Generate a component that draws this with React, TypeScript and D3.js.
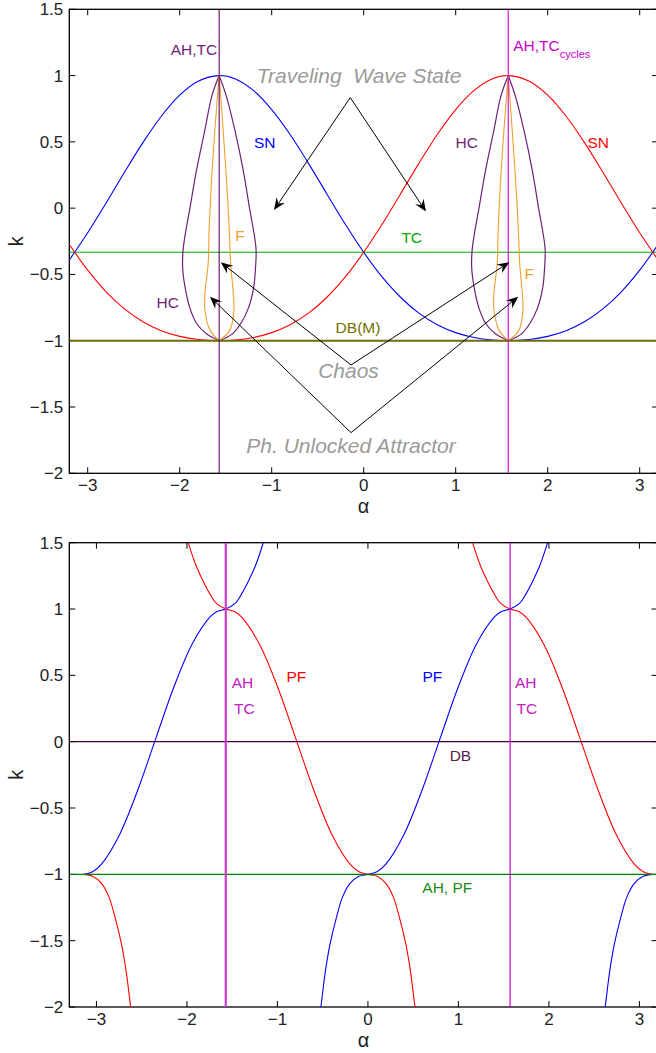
import React from "react";
import * as d3 from "d3";

// ---------- top panel data ----------
// saddle-node curves, sampled on a common alpha grid
const snAlpha = [-3.2, -3.0, -2.8, -2.6, -2.4, -2.2, -2.0, -1.8, -1.571, -1.4, -1.2, -1.0, -0.8, -0.6, -0.4, -0.2, 0,
  0.2, 0.4, 0.6, 0.8, 1.0, 1.2, 1.4, 1.571, 1.8, 2.0, 2.2, 2.4, 2.6, 2.8, 3.0, 3.2];
const snBlue = [-0.391, -0.186, 0.039, 0.271, 0.494, 0.693, 0.852, 0.957, 1.0, 0.976, 0.888, 0.744, 0.556, 0.338, 0.107, -0.122, -0.333,
  -0.519, -0.672, -0.792, -0.879, -0.939, -0.976, -0.995, -1.0, -0.991, -0.967, -0.924, -0.857, -0.76, -0.631, -0.468, -0.274];
const snRed = [-0.274, -0.468, -0.631, -0.76, -0.857, -0.924, -0.967, -0.991, -1.0, -0.995, -0.976, -0.939, -0.879, -0.792, -0.672, -0.519, -0.333,
  -0.122, 0.107, 0.338, 0.556, 0.744, 0.888, 0.976, 1.0, 0.957, 0.852, 0.693, 0.494, 0.271, 0.039, -0.186, -0.391];

// homoclinic loops (HC) and fold of cycles (F): k levels and alpha offsets from the loop centre
const loopCenters = [-1.571, 1.571];
const hcK = [1, 0.84, 0.59, 0.29, 0, -0.3, -0.45, -0.6, -0.75, -0.87, -0.95, -1];
const hcLeft = [0, -0.082, -0.155, -0.245, -0.318, -0.39, -0.397, -0.37, -0.32, -0.245, -0.135, 0];
const hcRight = [0, 0.08, 0.17, 0.26, 0.33, 0.4, 0.395, 0.375, 0.32, 0.235, 0.14, 0];
const fK = [1, 0.59, 0.21, -0.16, -0.42, -0.64, -0.77, -0.92, -1];
const fLeft = [0, -0.047, -0.083, -0.109, -0.12, -0.155, -0.155, -0.1, 0];
const fRight = [0, 0.043, 0.08, 0.11, 0.125, 0.153, 0.16, 0.117, 0];

const tcLevel = -0.333;
const dbmLevel = -1;

const arrowGroups: { from: [number, number]; to: [number, number][] }[] = [
  { from: [-0.146, 0.834], to: [[-0.975, -0.014], [0.677, -0.026]] },
  { from: [-0.138, -1.183], to: [[-1.554, -0.408], [1.583, -0.408]] },
  { from: [-0.138, -1.693], to: [[-1.671, -0.668], [1.68, -0.668]] },
];

const topLabels = [
  { text: "AH,TC", a: -1.845, k: 1.156, color: "#6e1f78" },
  { text: "SN", a: -1.076, k: 0.456, color: "#0000ff" },
  { text: "HC", a: 1.12, k: 0.456, color: "#6e1f78" },
  { text: "SN", a: 2.55, k: 0.456, color: "#ff0000" },
  { text: "F", a: -1.345, k: -0.245, color: "#eea030" },
  { text: "TC", a: 0.522, k: -0.26, color: "#00aa00" },
  { text: "F", a: 1.8, k: -0.536, color: "#eea030" },
  { text: "HC", a: -2.13, k: -0.751, color: "#6e1f78" },
  { text: "DB(M)", a: -0.062, k: -0.944, color: "#707000" },
];
const regionLabels = [
  { text: "Traveling  Wave State", a: -0.05, k: 0.942 },
  { text: "Chaos", a: -0.165, k: -1.279 },
  { text: "Ph. Unlocked Attractor", a: -0.138, k: -1.849 },
];

// ---------- bottom panel data ----------
const pfBlue: [number, number][][] = [
  [[-3.142, -1], [-3.042, -0.98], [-2.942, -0.921], [-2.742, -0.697], [-2.542, -0.362], [-2.342, 0.029], [-2.142, 0.416],
   [-1.942, 0.737], [-1.742, 0.942], [-1.672, 0.98], [-1.571, 1], [-1.471, 1.04], [-1.391, 1.12], [-1.321, 1.21],
   [-1.241, 1.33], [-1.156, 1.5], [-1.121, 1.58]],
  [[-0.54, -2.1], [-0.52, -2.0], [-0.47, -1.73], [-0.42, -1.53], [-0.35, -1.33], [-0.28, -1.17], [-0.2, -1.07], [-0.1, -1.015], [0, -1],
   [0.1, -0.98], [0.2, -0.921], [0.4, -0.697], [0.6, -0.362], [0.8, 0.029], [1.0, 0.416], [1.2, 0.737], [1.4, 0.942],
   [1.47, 0.98], [1.571, 1], [1.671, 1.04], [1.751, 1.12], [1.821, 1.21], [1.901, 1.33], [1.986, 1.5], [2.021, 1.58]],
  [[2.602, -2.1], [2.622, -2.0], [2.672, -1.73], [2.722, -1.53], [2.792, -1.33], [2.862, -1.17], [2.942, -1.07], [3.042, -1.015], [3.142, -1]],
];
const pfRed: [number, number][][] = [
  [[-3.142, -1], [-3.042, -1.015], [-2.942, -1.07], [-2.862, -1.17], [-2.792, -1.33], [-2.722, -1.53], [-2.672, -1.73], [-2.622, -2.0], [-2.602, -2.1]],
  [[-2.021, 1.58], [-1.986, 1.5], [-1.901, 1.33], [-1.821, 1.21], [-1.751, 1.12], [-1.671, 1.04], [-1.571, 1], [-1.47, 0.98],
   [-1.4, 0.942], [-1.2, 0.737], [-1.0, 0.416], [-0.8, 0.029], [-0.6, -0.362], [-0.4, -0.697], [-0.2, -0.921], [-0.1, -0.98], [0, -1],
   [0.1, -1.015], [0.2, -1.07], [0.28, -1.17], [0.35, -1.33], [0.42, -1.53], [0.47, -1.73], [0.52, -2.0], [0.54, -2.1]],
  [[1.121, 1.58], [1.156, 1.5], [1.241, 1.33], [1.321, 1.21], [1.391, 1.12], [1.471, 1.04], [1.571, 1], [1.672, 0.98], [1.742, 0.942],
   [1.942, 0.737], [2.142, 0.416], [2.342, 0.029], [2.542, -0.362], [2.742, -0.697], [2.942, -0.921], [3.042, -0.98], [3.142, -1]],
];
const dbLevel = 0;
const ahPfLevel = -1;
const ahTcAlpha = [-1.571, 1.571];

const bottomLabels = [
  { text: "AH", a: -1.387, k: 0.403, color: "#c020c0" },
  { text: "TC", a: -1.366, k: 0.207, color: "#c020c0" },
  { text: "PF", a: -0.791, k: 0.452, color: "#ff0000" },
  { text: "PF", a: 0.712, k: 0.452, color: "#0000ff" },
  { text: "AH", a: 1.743, k: 0.403, color: "#c020c0" },
  { text: "TC", a: 1.756, k: 0.207, color: "#c020c0" },
  { text: "DB", a: 1.022, k: -0.143, color: "#5a1a50" },
  { text: "AH, PF", a: 0.877, k: -1.143, color: "#1a8c1a" },
];

const xTicks = [-3, -2, -1, 0, 1, 2, 3];
const yTicks = [1.5, 1, 0.5, 0, -0.5, -1, -1.5, -2];

const font = "'Liberation Sans', Arial, Helvetica, sans-serif";
const fmt = d3.format("~g");

type Scale = d3.ScaleLinear<number, number>;

function Frame({ x, y, id }: { x: Scale; y: Scale; id: string }) {
  const [x0, x1] = x.range();
  const [y0, y1] = y.range();
  const tl = 6;
  return (
    <g>
      <defs>
        <clipPath id={id}>
          <rect x={x0} y={y1} width={x1 - x0} height={y0 - y1} />
        </clipPath>
      </defs>
      {xTicks.map((t) => (
        <g key={"x" + t}>
          <line x1={x(t)} x2={x(t)} y1={y0} y2={y0 - tl} stroke="#000" />
          <line x1={x(t)} x2={x(t)} y1={y1} y2={y1 + tl} stroke="#000" />
          <text x={x(t)} y={y0 + 17.5} textAnchor="middle" fontSize={17} fill="#222">{fmt(t)}</text>
        </g>
      ))}
      {yTicks.map((t) => (
        <g key={"y" + t}>
          <line x1={x0} x2={x0 + tl} y1={y(t)} y2={y(t)} stroke="#000" />
          <line x1={x1} x2={x1 - tl} y1={y(t)} y2={y(t)} stroke="#000" />
          <text x={x0 - 6} y={y(t) + 6} textAnchor="end" fontSize={17} fill="#222">{fmt(t)}</text>
        </g>
      ))}
      <rect x={x0} y={y1} width={x1 - x0} height={y0 - y1} fill="none" stroke="#000" strokeWidth={1.3} />
      <text x={(x0 + 658) / 2} y={y0 + 40} textAnchor="middle" fontSize={20} fill="#222">α</text>
      <text transform={`translate(23,${(y0 + y1) / 2}) rotate(-90)`} textAnchor="middle" fontSize={20} fill="#222">k</text>
    </g>
  );
}

function arrowHead(tip: [number, number], from: [number, number]) {
  const dx = tip[0] - from[0];
  const dy = tip[1] - from[1];
  const len = Math.hypot(dx, dy);
  const ux = dx / len, uy = dy / len, nx = -uy, ny = ux;
  const L = 12, W = 5, N = 8;
  const p = (a: number, b: number) => `${tip[0] - ux * a + nx * b},${tip[1] - uy * a + ny * b}`;
  return {
    d: `M${tip[0]},${tip[1]}L${p(L, W)}L${p(N, 0)}L${p(L, -W)}Z`,
    base: [tip[0] - ux * N, tip[1] - uy * N],
  };
}

function TopPanel() {
  const x = d3.scaleLinear().domain([-3.2, 3.2]).range([69.3, 658.1]);
  const y = d3.scaleLinear().domain([-2, 1.5]).range([473.3, 9.3]);
  const line = d3.line<[number, number]>().x((d) => x(d[0])).y((d) => y(d[1])).curve(d3.curveCatmullRom);
  const blue = snAlpha.map((a, i) => [a, snBlue[i]] as [number, number]);
  const red = snAlpha.map((a, i) => [a, snRed[i]] as [number, number]);
  return (
    <g fontFamily={font}>
      <Frame x={x} y={y} id="clipTop" />
      <g clipPath="url(#clipTop)" fill="none">
        <line x1={x(-3.2)} x2={x(3.2)} y1={y(tcLevel)} y2={y(tcLevel)} stroke="#00aa00" strokeWidth={1.1} />
        <path d={line(blue) || ""} stroke="#0000ff" strokeWidth={1.1} />
        <path d={line(red) || ""} stroke="#ff0000" strokeWidth={1.1} />
        {loopCenters.map((c) => (
          <g key={c}>
            <path d={line(hcK.map((k, i) => [c + hcLeft[i], k] as [number, number])) || ""} stroke="#6e1f78" strokeWidth={1.2} />
            <path d={line(hcK.map((k, i) => [c + hcRight[i], k] as [number, number])) || ""} stroke="#6e1f78" strokeWidth={1.2} />
            <path d={line(fK.map((k, i) => [c + fLeft[i], k] as [number, number])) || ""} stroke="#f0a030" strokeWidth={1.1} />
            <path d={line(fK.map((k, i) => [c + fRight[i], k] as [number, number])) || ""} stroke="#f0a030" strokeWidth={1.1} />
          </g>
        ))}
        <line x1={x(-3.2)} x2={x(3.2)} y1={y(dbmLevel)} y2={y(dbmLevel)} stroke="#6e6e08" strokeWidth={2} />
        <line x1={x(loopCenters[0])} x2={x(loopCenters[0])} y1={y(-2)} y2={y(1.5)} stroke="#5a0a5a" strokeWidth={1.1} />
        <line x1={x(loopCenters[1])} x2={x(loopCenters[1])} y1={y(-2)} y2={y(1.5)} stroke="#d000d0" strokeWidth={1.1} />
      </g>
      {arrowGroups.map((g, gi) => {
        const from: [number, number] = [x(g.from[0]), y(g.from[1])];
        return (
          <g key={gi}>
            {g.to.map((t, ti) => {
              const tip: [number, number] = [x(t[0]), y(t[1])];
              const h = arrowHead(tip, from);
              return (
                <g key={ti}>
                  <line x1={from[0]} y1={from[1]} x2={h.base[0]} y2={h.base[1]} stroke="#000" strokeWidth={1} />
                  <path d={h.d} fill="#000" />
                </g>
              );
            })}
          </g>
        );
      })}
      {topLabels.map((l, i) => (
        <text key={i} x={x(l.a)} y={y(l.k)} textAnchor="middle" fontSize={15.5} fill={l.color}>{l.text}</text>
      ))}
      <text x={x(1.626)} y={y(1.188)} fontSize={15.5} fill="#cc00cc">
        AH,TC<tspan fontSize={11} dy={7}>cycles</tspan>
      </text>
      {regionLabels.map((l, i) => (
        <text key={i} x={x(l.a)} y={y(l.k)} textAnchor="middle" fontSize={21} fontStyle="italic" fill="#9a9a9a"
          style={{ whiteSpace: "pre" }}>{l.text}</text>
      ))}
    </g>
  );
}

function BottomPanel() {
  const x = d3.scaleLinear().domain([-3.3, 3.2]).range([69.3, 657.5]);
  const y = d3.scaleLinear().domain([-2, 1.5]).range([1007, 542.7]);
  const line = d3.line<[number, number]>().x((d) => x(d[0])).y((d) => y(d[1])).curve(d3.curveCatmullRom);
  return (
    <g fontFamily={font}>
      <Frame x={x} y={y} id="clipBot" />
      <g clipPath="url(#clipBot)" fill="none">
        {pfBlue.map((s, i) => <path key={"b" + i} d={line(s) || ""} stroke="#0000ff" strokeWidth={1.1} />)}
        {pfRed.map((s, i) => <path key={"r" + i} d={line(s) || ""} stroke="#ff0000" strokeWidth={1.1} />)}
        <line x1={x(-3.3)} x2={x(3.2)} y1={y(dbLevel)} y2={y(dbLevel)} stroke="#400040" strokeWidth={1.2} />
        <line x1={x(-3.3)} x2={x(3.2)} y1={y(ahPfLevel)} y2={y(ahPfLevel)} stroke="#008000" strokeWidth={1.2} />
        <line x1={x(ahTcAlpha[0])} x2={x(ahTcAlpha[0])} y1={y(-2)} y2={y(1.5)} stroke="#c83cc8" strokeWidth={2.2} />
        <line x1={x(ahTcAlpha[1])} x2={x(ahTcAlpha[1])} y1={y(-2)} y2={y(1.5)} stroke="#cc00cc" strokeWidth={1.2} />
      </g>
      {bottomLabels.map((l, i) => (
        <text key={i} x={x(l.a)} y={y(l.k)} textAnchor="middle" fontSize={15.5} fill={l.color}>{l.text}</text>
      ))}
    </g>
  );
}

export default function App() {
  return (
    <svg width={656} height={1053} style={{ position: "absolute", left: 0, top: 0, background: "#fff" }}>
      <rect width={656} height={1053} fill="#fff" />
      <TopPanel />
      <BottomPanel />
    </svg>
  );
}
